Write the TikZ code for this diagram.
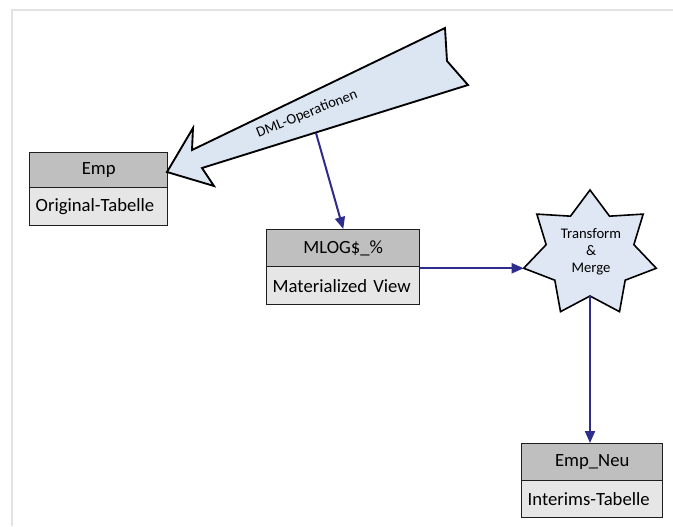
\documentclass[tikz,border=0pt]{standalone}
\usepackage{fontspec}
\setmainfont{Carlito}
\usetikzlibrary{arrows.meta}
\definecolor{hdrgray}{HTML}{BFBFBF}
\definecolor{bodygray}{HTML}{E6E6E6}
\definecolor{boxline}{HTML}{1E1E1E}
\definecolor{lightblue}{HTML}{DCE6F2}
\definecolor{starblue}{HTML}{DEE7F3}
\definecolor{navy}{HTML}{2E2C8C}
\definecolor{framegray}{HTML}{E2E2E2}
\begin{document}
\begin{tikzpicture}[x=0.75pt,y=-0.75pt,
  tbl/.style={draw=boxline, line width=1.1pt, inner sep=0pt, anchor=north west,
              font=\fontsize{14}{16}\selectfont},
  hdr/.style={tbl, fill=hdrgray, align=center},
  bdy/.style={tbl, fill=bodygray, align=left, inner xsep=4.5pt},
  link/.style={draw=navy, line width=1.5pt, -{Triangle[length=9pt,width=7.5pt]}},
  bigarrow/.style={draw=black, line width=1.4pt, fill=lightblue, line join=miter},
  starshape/.style={draw=black, line width=1.2pt, fill=starblue, line join=miter},
  smalltext/.style={font=\fontsize{11}{12.75}\selectfont}]
\useasboundingbox (0,0) rectangle (673,526);
\fill[white] (-6,-6) rectangle (680,532);
\draw[framegray, line width=1.8pt] (12,526) -- (12,10) -- (673,10);

% tables
\node[hdr, minimum width=103.5pt, minimum height=26.25pt] (emph) at (29,152) {Emp};
\node[bdy, text width=94.5pt, minimum height=28.5pt] (empb) at (29,187) {\mbox{Original-Tabelle}};

\node[hdr, minimum width=114.75pt, minimum height=27.75pt] (mlogh) at (266,229) {MLOG\$\_\%};
\node[bdy, text width=105.75pt, minimum height=28.5pt] (mlogb) at (266,266) {\mbox{Materialized View}};

\node[hdr, minimum width=105.75pt, minimum height=27.75pt] (neuh) at (521,443) {Emp\_Neu};
\node[bdy, text width=96.75pt, minimum height=27.75pt] (neub) at (521,480) {\mbox{Interims-Tabelle}};

% big block arrow
\draw[bigarrow] (167,172) -- (193,128) -- (192,150) -- (445,28) -- (447,61)
  -- (468,85) -- (202,168) -- (214,186) -- cycle;
\node[smalltext, rotate=22] (dml) at (307,114) {DML-Operationen};
\coordinate (dmlfoot) at (316,133);

% star
\begin{scope}[shift={(590,254)}]
\draw[starshape] (90:51pt and 48pt)
  \foreach \k in {0,...,6} { -- ({90+\k*360/7+180/7}:33.75pt and 31.5pt)
                             -- ({90+(\k+1)*360/7}:51pt and 48pt) } -- cycle;
\coordinate (starL) at ({90+2*360/7}:51pt and 48pt);
\coordinate (starB) at (270:33.75pt and 31.5pt);
\end{scope}
\node[smalltext, align=center] (tm) at (591,252) {Transform\\\&\\Merge};

% connectors
\draw[link] (dmlfoot) -- (mlogh.north);
\draw[link] (starL -| mlogb.east) -- (starL);
\draw[link] (starB) -- (starB |- neuh.north);
\end{tikzpicture}
\end{document}
